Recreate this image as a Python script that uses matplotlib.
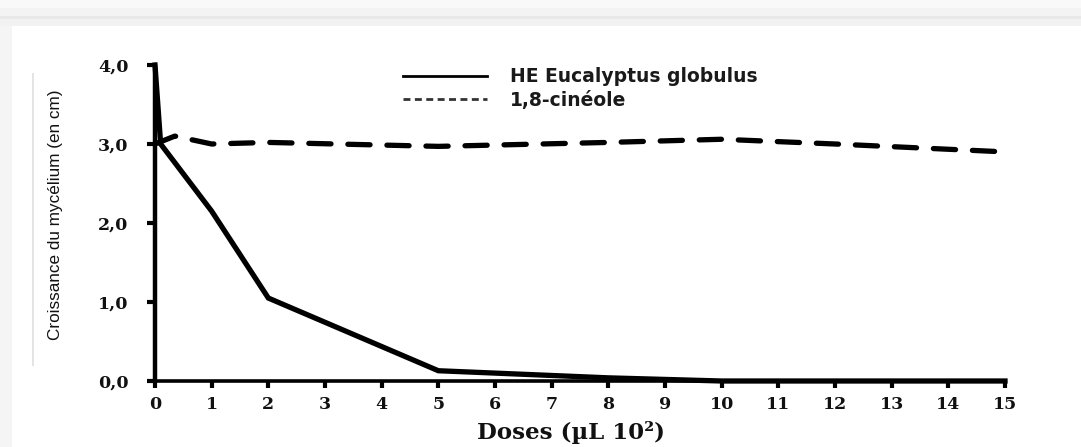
import matplotlib
matplotlib.use("Agg")
import matplotlib.pyplot as plt
from matplotlib.lines import Line2D
from matplotlib.patches import Rectangle

# Data
x_he = [0, 0.1, 1, 2, 5, 8, 10, 15]
y_he = [4.0, 3.0, 2.15, 1.05, 0.13, 0.04, 0.0, 0.0]
x_cin = [0, 0.35, 1, 2, 5, 8, 10, 12, 15]
y_cin = [3.0, 3.1, 3.0, 3.02, 2.97, 3.02, 3.06, 3.0, 2.9]
xticks = list(range(0, 16))
yticks = [0, 1, 2, 3, 4]
ytick_labels = ["0,0", "1,0", "2,0", "3,0", "4,0"]
labels = ["HE Eucalyptus globulus", "1,8-cinéole"]

W, H = 1081, 447
fig = plt.figure(figsize=(W / 100, H / 100), dpi=100)
fig.patch.set_facecolor("white")

def px_rect(x0, y0, x1, y1, color):
    fig.patches.append(Rectangle((x0 / W, 1 - y1 / H), (x1 - x0) / W, (y1 - y0) / H,
                                 transform=fig.transFigure, facecolor=color,
                                 edgecolor="none", zorder=-1))

# screenshot frame
px_rect(0, 0, W, 8, "#f9f9f9")
px_rect(0, 8, W, 16, "#f3f3f3")
px_rect(0, 16, W, 19, "#e8e8e8")
px_rect(0, 19, W, 26, "#f2f2f2")
px_rect(0, 26, 12, H, "#f5f5f5")
px_rect(32, 73, 34, 366, "#e4e4e4")

ax = fig.add_axes([155 / W, 1 - 381 / H, (1005 - 155) / W, (381 - 65) / H])
ax.patch.set_alpha(0)
ax.plot(x_he, y_he, color="black", lw=3.8, solid_joinstyle="miter", clip_on=False, zorder=3)
ax.plot(x_cin, y_cin, color="black", lw=3.8, dashes=(4.2, 3.2), dash_capstyle="round",
        clip_on=False, zorder=3)

ax.set_xlim(0, 15)
ax.set_ylim(0, 4)
ax.set_xticks(xticks)
ax.set_xticklabels([str(t) for t in xticks])
ax.set_yticks(yticks)
ax.set_yticklabels(ytick_labels)
for s in ["top", "right"]:
    ax.spines[s].set_visible(False)
ax.spines["left"].set_linewidth(3.2)
ax.spines["bottom"].set_linewidth(2.6)
ax.spines["left"].set_capstyle("round")
ax.spines["bottom"].set_capstyle("round")
ax.tick_params(axis="y", width=3, length=6, direction="out", pad=13)
ax.tick_params(axis="x", width=3, length=5, direction="out", pad=6)
for lab in ax.get_xticklabels() + ax.get_yticklabels():
    lab.set_fontfamily("DejaVu Serif")
    lab.set_fontweight("bold")
    lab.set_fontsize(12.5)
    lab.set_color("#111111")

ax.set_xlabel("Doses (µL 10²)", fontfamily="DejaVu Serif", fontweight="bold",
              fontsize=16.5, color="#111111")
ax.xaxis.set_label_coords((571 - 155) / 850, -(432 - 381) / 316)
ax.xaxis.label.set_verticalalignment("center")
ax.set_ylabel("Croissance du mycélium (en cm)", fontfamily="Liberation Sans",
              fontsize=12.3, color="#111111")
ax.yaxis.set_label_coords(-(155 - 56) / 850, (381 - 215) / 316)
ax.yaxis.label.set_verticalalignment("center")

handles = [Line2D([], [], color="black", lw=2.0),
           Line2D([], [], color="#333333", lw=2.0, dashes=(2.5, 1.6))]
leg = ax.legend(handles, labels, loc="upper left", bbox_to_anchor=(233 / 850, 1.04),
                frameon=False, handlelength=4.5, handletextpad=1.2, labelspacing=0.25,
                borderpad=0.3,
                prop={"family": "DejaVu Sans", "weight": "bold", "size": 13.5})
for t in leg.get_texts():
    t.set_color("#1a1a1a")

fig.savefig("out.png", dpi=100)
